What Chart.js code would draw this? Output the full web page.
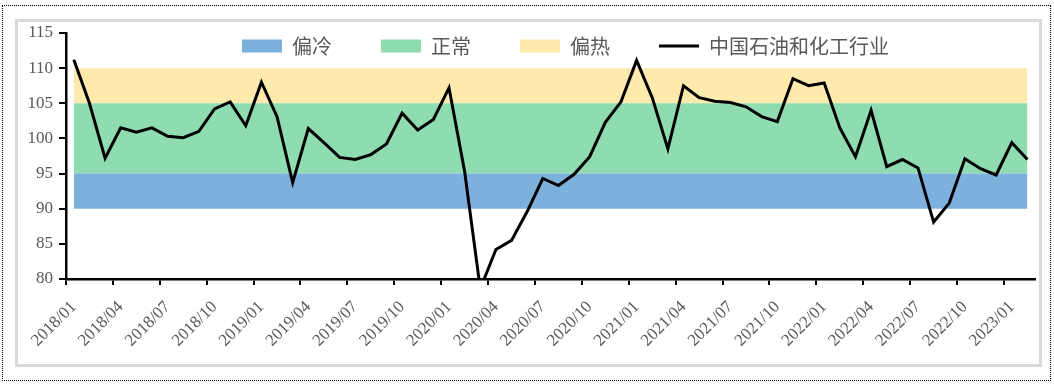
<!DOCTYPE html>
<html>
<head>
<meta charset="utf-8">
<script src="https://cdn.jsdelivr.net/npm/chart.js@4"></script>
<style>
  html, body { margin: 0; padding: 0; background: #fff; }
  #outer { position: absolute; left: 2px; top: 5px; width: 1049px; height: 376px; border: 1px dotted #000; box-sizing: border-box; }
  #inner { position: absolute; left: 15px; top: 19px; width: 1027px; height: 348px; border: 3px solid #d9d9d9; box-sizing: border-box; }
  #wrap { position: absolute; left: 0; top: 0; width: 1054px; height: 390px; }
</style>
</head>
<body>
<div id="outer"></div>
<div id="inner"></div>
<div id="wrap"><canvas id="myChart"></canvas></div>
<script>
const months = [
  '2018/01','2018/02','2018/03','2018/04','2018/05','2018/06','2018/07','2018/08','2018/09','2018/10','2018/11','2018/12',
  '2019/01','2019/02','2019/03','2019/04','2019/05','2019/06','2019/07','2019/08','2019/09','2019/10','2019/11','2019/12',
  '2020/01','2020/02','2020/03','2020/04','2020/05','2020/06','2020/07','2020/08','2020/09','2020/10','2020/11','2020/12',
  '2021/01','2021/02','2021/03','2021/04','2021/05','2021/06','2021/07','2021/08','2021/09','2021/10','2021/11','2021/12',
  '2022/01','2022/02','2022/03','2022/04','2022/05','2022/06','2022/07','2022/08','2022/09','2022/10','2022/11','2022/12',
  '2023/01','2023/02'
];

// 中国石油和化工行业 景气指数
const industry = [
  111.2, 105.0, 97.2, 101.5, 100.9, 101.5, 100.3, 100.1, 101.0, 104.2, 105.2, 101.8,
  108.0, 103.1, 93.7, 101.4, 99.4, 97.3, 97.0, 97.7, 99.2, 103.6, 101.2, 102.7,
  107.2, 95.3, 78.6, 84.2, 85.5, 89.6, 94.3, 93.3, 94.9, 97.4, 102.3, 105.2,
  111.1, 105.8, 98.5, 107.5, 105.8, 105.3, 105.1, 104.5, 103.1, 102.4, 108.5, 107.5,
  107.9, 101.5, 97.4, 104.0, 96.0, 97.0, 95.8, 88.1, 90.8, 97.1, 95.7, 94.8,
  99.4, 97.0
];

// 区间边界
const coldLow = 90;
const coldHigh = 95;
const normalHigh = 105;
const hotHigh = 110;

const yTicks = [80, 85, 90, 95, 100, 105, 110, 115];

const bandCold = months.map(() => coldHigh);
const bandNormal = months.map(() => normalHigh);
const bandHot = months.map(() => hotHigh);

const cBlue = '#7cb1de';
const cGreen = '#8fdcb1';
const cYellow = '#ffeaad';
const textGrey = '#595959';

// legend drawn over the plot, it takes no room in the layout
const legendOverlay = {
  id: 'legendOverlay',
  afterInit(chart) {
    const lg = chart.legend;
    const fit = lg.fit.bind(lg);
    lg.fit = function () { fit(); this.height = 0; };
  },
  afterLayout(chart) {
    const lg = chart.legend;
    lg.left = 193;
    lg.top = -13;
    lg.right = 1040;
    lg.bottom = 70;
    lg.width = lg.right - lg.left;
    lg.height = lg.bottom - lg.top;
  }
};

const band = (label, data, color, fill) => ({
  label: label,
  data: data,
  backgroundColor: color,
  borderColor: color,
  borderWidth: 0,
  pointRadius: 0,
  fill: fill,
  order: 1
});

const ctx = document.getElementById('myChart');
const chart = new Chart(ctx, {
  type: 'line',
  data: {
    labels: months,
    datasets: [
      band('偏冷', bandCold, cBlue, { value: coldLow }),
      band('正常', bandNormal, cGreen, '-1'),
      band('偏热', bandHot, cYellow, '-1'),
      {
        label: '中国石油和化工行业',
        data: industry,
        borderColor: '#000',
        backgroundColor: '#000',
        borderWidth: 3,
        pointRadius: 0,
        tension: 0,
        fill: false,
        order: 0
      }
    ]
  },
  options: {
    responsive: true,
    maintainAspectRatio: false,
    animation: false,
    layout: { padding: { left: 26, top: 33, right: 18, bottom: 30 } },
    plugins: {
      tooltip: { enabled: false },
      legend: {
        display: true,
        position: 'top',
        align: 'start',
        labels: {
          color: textGrey,
          font: { family: "'Noto Sans CJK SC', sans-serif", size: 20 },
          padding: 49,
          boxWidth: 40,
          boxHeight: 13,
          usePointStyle: true,
          pointStyleWidth: 40,
          sort: (a, b) => a.datasetIndex - b.datasetIndex,
          generateLabels: (chart) => chart.data.datasets.map((ds, i) => {
            const isLine = i === 3;
            return {
              text: ds.label,
              datasetIndex: i,
              fillStyle: ds.backgroundColor,
              strokeStyle: isLine ? '#000' : ds.backgroundColor,
              lineWidth: isLine ? 3 : 0,
              pointStyle: isLine ? 'line' : 'rect',
              fontColor: textGrey,
              hidden: !chart.isDatasetVisible(i)
            };
          })
        }
      }
    },
    scales: {
      x: {
        offset: true,
        afterFit: (scale) => { scale.height = 81; },
        border: { color: '#000', width: 2.5 },
        grid: {
          offset: true,
          drawOnChartArea: false,
          drawTicks: true,
          tickLength: 6,
          lineWidth: 2,
          color: (c) => (c.index !== undefined && c.index % 3 === 0) ? '#000' : 'rgba(0,0,0,0)'
        },
        ticks: {
          autoSkip: false,
          maxRotation: 45,
          minRotation: 45,
          padding: 12,
          color: textGrey,
          font: { family: "'Liberation Serif', serif", size: 17 },
          callback: (v, i) => i % 3 === 0 ? months[i] : ''
        }
      },
      y: {
        min: 80,
        max: 115,
        afterFit: (scale) => { scale.width = 40; },
        afterBuildTicks: (scale) => { scale.ticks = yTicks.map(v => ({ value: v })); },
        border: { color: '#000', width: 2.5 },
        grid: {
          drawOnChartArea: false,
          drawTicks: true,
          tickLength: 7,
          lineWidth: 2,
          color: '#000'
        },
        ticks: {
          padding: 6,
          color: textGrey,
          font: { family: "'Liberation Serif', serif", size: 17 }
        }
      }
    }
  },
  plugins: [legendOverlay]
});
</script>
</body>
</html>
